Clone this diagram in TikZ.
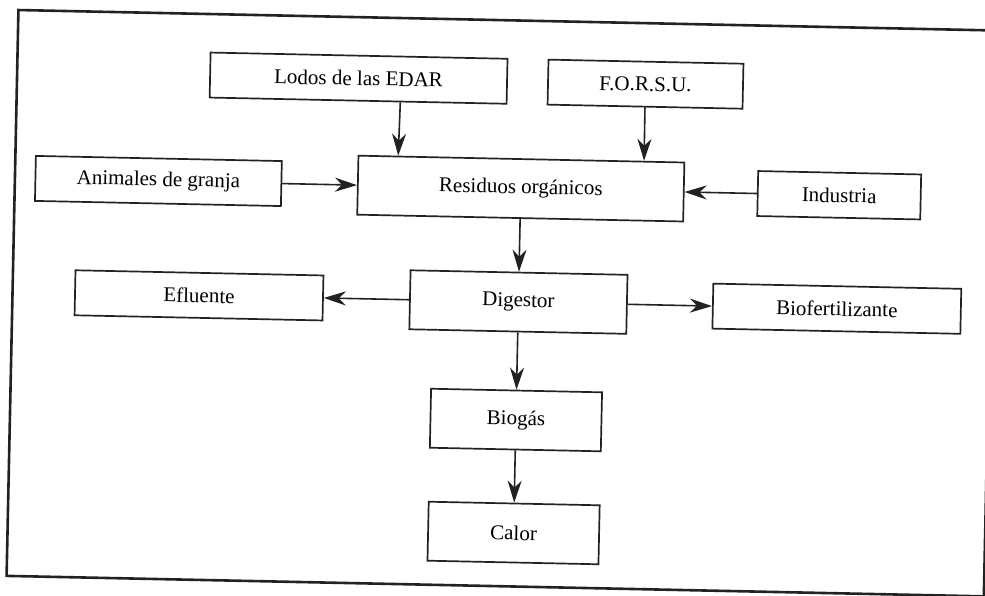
\documentclass[tikz,border=0pt]{standalone}
\usepackage{fontspec}
\setmainfont{Liberation Serif}
\usetikzlibrary{arrows.meta,calc}
\definecolor{ink}{HTML}{222222}

\begin{document}
\begin{tikzpicture}[x=1pt,y=-1pt,
  box/.style={draw=ink,line width=1.7pt,fill=white,inner sep=0pt,
    minimum height=45pt,text=black,font=\fontsize{21}{25}\selectfont,
    transform shape},
  tall/.style={minimum height=59pt},
  arr/.style={draw=ink,line width=1.6pt,
    -{Stealth[length=22pt,width=14pt,inset=7pt]}},
  frame/.style={draw=ink,line width=2.6pt}]
\useasboundingbox (0,0) rectangle (985,596);
\clip (0,0) rectangle (985,596);
\begin{scope}[rotate around={-1.2:(492,298)}]
  % outer frame
  \draw[frame] (12.5,20) rectangle (990,586);

  % sources
  \node[box,minimum width=297pt] (lodos) at (354,81) {Lodos de las EDAR};
  \node[box,minimum width=195pt] (forsu) at (641,81) {F.O.R.S.U.};
  \node[box,minimum width=246pt] (anim) at (156,188) {Animales de granja};
  \node[box,tall,minimum width=326pt] (res) at (518.5,188) {Residuos orgánicos};
  \node[box,minimum width=163pt] (ind) at (837,188) {Industria};

  % digestion and products
  \node[box,minimum width=248pt] (eflu) at (199,301.5) {Efluente};
  \node[box,tall,minimum width=217pt] (dig) at (518.5,301.5) {Digestor};
  \node[box,minimum width=248pt] (biof) at (837,301.5) {Biofertilizante};
  \node[box,tall,minimum width=171pt] (biog) at (518.5,419.5) {Biogás};
  \node[box,tall,minimum width=171pt] (calor) at (518.5,532.5) {Calor};

  % flows
  \draw[arr] ($(lodos.south)!0.283!(lodos.south east)$) -- ($(res.north)!0.752!(res.north west)$);
  \draw[arr] (forsu.south) -- ($(res.north)!0.749!(res.north east)$);
  \draw[arr] (anim.east) -- (res.west);
  \draw[arr] (ind.west) -- (res.east);
  \draw[arr] (res.south) -- (dig.north);
  \draw[arr] (dig.west) -- (eflu.east);
  \draw[arr] (dig.east) -- (biof.west);
  \draw[arr] (dig.south) -- (biog.north);
  \draw[arr] (biog.south) -- (calor.north);
\end{scope}
\end{tikzpicture}
\end{document}
